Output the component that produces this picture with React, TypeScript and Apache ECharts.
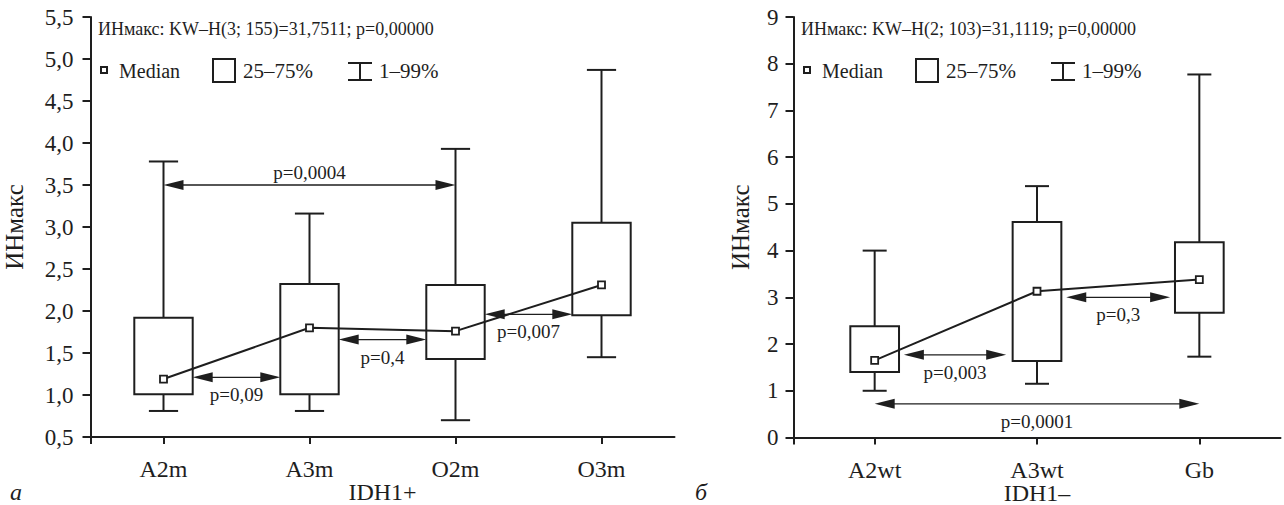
import React, { useEffect, useRef } from 'react';
import * as echarts from 'echarts';

const FONT = 'Liberation Serif';
const INK = '#1e1e1e';

// ---- Left panel (IDH1+) ----
const leftCategories = ['A2m', 'A3m', 'O2m', 'O3m'];
const leftP1 = [0.81, 0.81, 0.7, 1.45];
const leftP25 = [1.01, 1.01, 1.43, 1.95];
const leftMedian = [1.19, 1.8, 1.76, 2.31];
const leftP75 = [1.92, 2.32, 2.31, 3.05];
const leftP99 = [3.78, 3.16, 3.93, 4.87];
const leftCompLabels = ['p=0,0004', 'p=0,09', 'p=0,4', 'p=0,007'];
const leftCompFrom = [0, 0.2, 1.2, 2.2];
const leftCompTo = [2, 0.8, 1.8, 2.8];
const leftCompLevel = [3.5, 1.21, 1.66, 1.96];
const leftCompAbove = [1, 0, 0, 0];
const leftTitle = 'ИНмакс: KW–H(3; 155)=31,7511; p=0,00000';
const leftXName = 'IDH1+';

// ---- Right panel (IDH1-) ----
const rightCategories = ['A2wt', 'A3wt', 'Gb'];
const rightP1 = [1.0, 1.15, 1.73];
const rightP25 = [1.4, 1.64, 2.67];
const rightMedian = [1.65, 3.13, 3.38];
const rightP75 = [2.38, 4.61, 4.18];
const rightP99 = [4.0, 5.38, 7.77];
const rightCompLabels = ['p=0,003', 'p=0,3', 'p=0,0001'];
const rightCompFrom = [0.18, 1.18, 0];
const rightCompTo = [0.81, 1.82, 2];
const rightCompLevel = [1.77, 3.0, 0.72];
const rightCompAbove = [0, 0, 0];
const rightTitle = 'ИНмакс: KW–H(2; 103)=31,1119; p=0,00000';
const rightXName = 'IDH1–';

const yName = 'ИНмакс';
const legendLabels = ['Median', '25–75%', '1–99%'];

function boxRender(boxFrac: number, capFrac: number) {
  return (params: any, api: any) => {
    const i = api.value(0);
    const pTop = api.coord([i, api.value(4)]);
    const pQ3 = api.coord([i, api.value(3)]);
    const pQ1 = api.coord([i, api.value(2)]);
    const pLow = api.coord([i, api.value(1)]);
    const band = api.size([1, 0])[0];
    const bw = band * boxFrac;
    const cw = band * capFrac;
    const x = pTop[0];
    const ls = { stroke: INK, lineWidth: 2 };
    return {
      type: 'group',
      children: [
        { type: 'line', shape: { x1: x, y1: pTop[1], x2: x, y2: pQ3[1] }, style: ls },
        { type: 'line', shape: { x1: x - cw / 2, y1: pTop[1], x2: x + cw / 2, y2: pTop[1] }, style: ls },
        { type: 'line', shape: { x1: x, y1: pQ1[1], x2: x, y2: pLow[1] }, style: ls },
        { type: 'line', shape: { x1: x - cw / 2, y1: pLow[1], x2: x + cw / 2, y2: pLow[1] }, style: ls },
        {
          type: 'rect',
          shape: { x: x - bw / 2, y: pQ3[1], width: bw, height: pQ1[1] - pQ3[1] },
          style: { stroke: INK, lineWidth: 2, fill: 'none' },
        },
      ],
    };
  };
}

function compRender(labels: string[]) {
  return (params: any, api: any) => {
    const a = api.coord([api.value(0), api.value(2)]);
    const b = api.coord([api.value(1), api.value(2)]);
    const above = api.value(3) === 1;
    const L = 20;
    const H = 5;
    const y = a[1];
    const text = labels[params.dataIndex];
    return {
      type: 'group',
      children: [
        { type: 'line', shape: { x1: a[0] + 4, y1: y, x2: b[0] - 4, y2: y }, style: { stroke: INK, lineWidth: 1.3 } },
        { type: 'polygon', shape: { points: [[a[0], y], [a[0] + L, y - H], [a[0] + L, y + H]] }, style: { fill: INK } },
        { type: 'polygon', shape: { points: [[b[0], y], [b[0] - L, y - H], [b[0] - L, y + H]] }, style: { fill: INK } },
        {
          type: 'text',
          x: (a[0] + b[0]) / 2,
          y: above ? y - 3 : y + 8,
          style: {
            text,
            fontSize: 19,
            fontFamily: FONT,
            fill: INK,
            align: 'center',
            textAlign: 'center',
            verticalAlign: above ? 'bottom' : 'top',
            textVerticalAlign: above ? 'bottom' : 'top',
          },
        },
      ],
    };
  };
}

function textEl(text: string, x: number, y: number, size: number, italic = false) {
  return {
    type: 'text',
    x,
    y,
    style: {
      text,
      fontSize: size,
      fontFamily: FONT,
      fontStyle: italic ? 'italic' : 'normal',
      fill: INK,
      align: 'left',
      textAlign: 'left',
      verticalAlign: 'middle',
      textVerticalAlign: 'middle',
    },
  };
}

function legendGraphics(ox: number, title: string) {
  const ls = { stroke: INK, lineWidth: 2 };
  return [
    textEl(title, 98 + ox, 29, 18),
    { type: 'rect', shape: { x: 101 + ox, y: 67, width: 6, height: 6 }, style: { ...ls, fill: '#fff' } },
    textEl(legendLabels[0], 119 + ox, 71, 20),
    { type: 'rect', shape: { x: 213 + ox, y: 59, width: 22, height: 23 }, style: { ...ls, fill: 'none' } },
    textEl(legendLabels[1], 243 + ox, 71, 21),
    { type: 'line', shape: { x1: 348 + ox, y1: 63, x2: 372 + ox, y2: 63 }, style: ls },
    { type: 'line', shape: { x1: 348 + ox, y1: 80, x2: 372 + ox, y2: 80 }, style: ls },
    { type: 'line', shape: { x1: 360 + ox, y1: 63, x2: 360 + ox, y2: 80 }, style: ls },
    textEl(legendLabels[2], 379 + ox, 71, 21),
  ];
}

function xAxisCfg(grid: number, cats: string[], name: string) {
  const n = cats.length;
  return {
    type: 'value',
    gridIndex: grid,
    min: -0.5,
    max: n - 0.5,
    axisLine: { show: true, onZero: false, lineStyle: { color: INK, width: 2 } },
    axisTick: {
      show: true,
      customValues: [-0.5, ...cats.map((_, i) => i)],
      length: 7,
      lineStyle: { color: INK, width: 2 },
    },
    axisLabel: {
      customValues: cats.map((_, i) => i),
      formatter: (v: number) => cats[Math.round(v)] ?? '',
      fontSize: 24,
      fontFamily: FONT,
      color: INK,
      margin: 20,
    },
    splitLine: { show: false },
    name,
    nameLocation: 'middle',
    nameGap: 43,
    nameMoveOverlap: false,
    nameTextStyle: { fontSize: 24, fontFamily: FONT, color: INK },
  };
}

function yAxisCfg(grid: number, min: number, max: number, interval: number, margin: number, gap: number, fmt: (v: number) => string) {
  return {
    type: 'value',
    gridIndex: grid,
    min,
    max,
    interval,
    axisLine: { show: true, onZero: false, lineStyle: { color: INK, width: 2 } },
    axisTick: { show: true, length: 8, lineStyle: { color: INK, width: 2 } },
    axisLabel: { formatter: fmt, fontSize: 23, fontFamily: FONT, color: INK, margin },
    splitLine: { show: false },
    name: yName,
    nameLocation: 'middle',
    nameRotate: 90,
    nameGap: gap,
    nameMoveOverlap: false,
    nameTextStyle: { fontSize: 25, fontFamily: FONT, color: INK },
  };
}

function panelSeries(
  idx: number,
  cats: string[],
  p1: number[],
  p25: number[],
  med: number[],
  p75: number[],
  p99: number[],
  compLabels: string[],
  from: number[],
  to: number[],
  level: number[],
  above: number[],
  boxFrac: number,
  capFrac: number
) {
  return [
    {
      type: 'custom',
      xAxisIndex: idx,
      yAxisIndex: idx,
      renderItem: boxRender(boxFrac, capFrac),
      encode: { x: 0, y: [1, 2, 3, 4] },
      data: cats.map((_, i) => [i, p1[i], p25[i], p75[i], p99[i]]),
      z: 2,
      silent: true,
    },
    {
      type: 'custom',
      xAxisIndex: idx,
      yAxisIndex: idx,
      renderItem: compRender(compLabels),
      encode: { x: [0, 1], y: 2 },
      data: compLabels.map((_, i) => [from[i], to[i], level[i], above[i]]),
      z: 3,
      silent: true,
    },
    {
      type: 'line',
      xAxisIndex: idx,
      yAxisIndex: idx,
      data: cats.map((_, i) => [i, med[i]]),
      symbol: 'rect',
      symbolSize: 7,
      showSymbol: true,
      itemStyle: { color: '#fff', borderColor: INK, borderWidth: 1.8 },
      lineStyle: { color: INK, width: 2 },
      z: 5,
      silent: true,
    },
  ];
}

export default function App() {
  const ref = useRef<HTMLDivElement>(null);
  useEffect(() => {
    if (!ref.current) return;
    const chart = echarts.init(ref.current, null, { renderer: 'svg' });
    const comma = (v: number) => v.toFixed(1).replace('.', ',');
    chart.setOption({
      animation: false,
      backgroundColor: '#fff',
      textStyle: { fontFamily: FONT },
      grid: [
        { left: 90.5, top: 17, width: 584, height: 420, outerBoundsMode: 'none', containLabel: false },
        { left: 793.5, top: 17, width: 487, height: 420.5, outerBoundsMode: 'none', containLabel: false },
      ],
      xAxis: [xAxisCfg(0, leftCategories, leftXName), xAxisCfg(1, rightCategories, rightXName)],
      yAxis: [
        yAxisCfg(0, 0.5, 5.5, 0.5, 17, 64, comma),
        yAxisCfg(1, 0, 9, 1, 15, 41, (v: number) => String(v)),
      ],
      series: [
        ...panelSeries(0, leftCategories, leftP1, leftP25, leftMedian, leftP75, leftP99,
          leftCompLabels, leftCompFrom, leftCompTo, leftCompLevel, leftCompAbove, 0.4, 0.2),
        ...panelSeries(1, rightCategories, rightP1, rightP25, rightMedian, rightP75, rightP99,
          rightCompLabels, rightCompFrom, rightCompTo, rightCompLevel, rightCompAbove, 0.3, 0.148),
      ],
      graphic: [
        ...legendGraphics(0, leftTitle),
        ...legendGraphics(703, rightTitle),
        textEl('а', 10, 492, 24, true),
        textEl('б', 695, 492, 24, true),
      ],
    });
    return () => chart.dispose();
  }, []);
  return (
    <div
      ref={ref}
      style={{ position: 'absolute', left: 0, top: 0, width: 1284, height: 505 }}
    />
  );
}
